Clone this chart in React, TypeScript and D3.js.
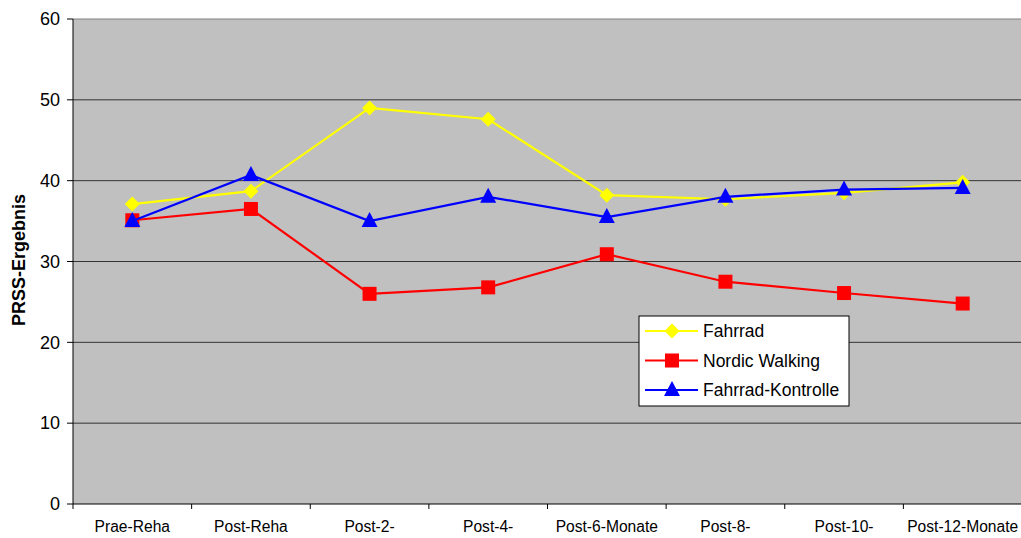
import React from "react";
import * as d3 from "d3";

const categories = ["Prae-Reha", "Post-Reha", "Post-2-", "Post-4-", "Post-6-Monate", "Post-8-", "Post-10-", "Post-12-Monate"];
const fahrrad = [37.1, 38.7, 49.0, 47.6, 38.2, 37.7, 38.5, 39.8];
const nordicWalking = [35.1, 36.5, 26.0, 26.8, 30.9, 27.5, 26.1, 24.8];
const kontrolle = [35.0, 40.7, 35.0, 38.0, 35.5, 38.0, 38.9, 39.1];
const yTicks = [0, 10, 20, 30, 40, 50, 60];

const series = [
  { name: "Fahrrad", values: fahrrad, color: "#ffff00", marker: "diamond" },
  { name: "Nordic Walking", values: nordicWalking, color: "#ff0000", marker: "square" },
  { name: "Fahrrad-Kontrolle", values: kontrolle, color: "#0000ff", marker: "triangle" },
];

const W = 1021, H = 538;
const left = 73, right = 1022, top = 19, bottom = 504;

function Marker({ type, x, y, color }: { type: string; x: number; y: number; color: string }) {
  if (type === "diamond") {
    const s = 7.5;
    return <path d={`M${x},${y - s}L${x + s},${y}L${x},${y + s}L${x - s},${y}Z`} fill={color} />;
  }
  if (type === "square") {
    const s = 7;
    return <rect x={x - s} y={y - s} width={2 * s} height={2 * s} fill={color} />;
  }
  const s = 8;
  return <path d={`M${x},${y - s - 1}L${x + s},${y + s - 2}L${x - s},${y + s - 2}Z`} fill={color} />;
}

export default function App() {
  const x = d3.scaleBand<string>().domain(categories).range([left, right]);
  const y = d3.scaleLinear().domain([0, 60]).range([bottom, top]);
  const line = d3.line<number>().x((_, i) => (x(categories[i]) as number) + x.bandwidth() / 2).y((d) => y(d));
  const font = "Arial, 'Liberation Sans', sans-serif";
  const legendX = 639, legendY = 316;
  return (
    <svg width={W} height={H} style={{ position: "absolute", left: 0, top: 0, background: "#fff" }} fontFamily={font}>
      <rect x={left} y={top} width={right - left} height={bottom - top} fill="#c0c0c0" />
      {yTicks.map((t) => (
        <g key={t}>
          {t > 0 && <line x1={left} x2={right} y1={y(t)} y2={y(t)} stroke={t === 60 ? "#808080" : "#333"} strokeWidth={1} />}
          <line x1={left - 6} x2={left} y1={y(t)} y2={y(t)} stroke="#000" />
          <text x={left - 13} y={y(t)} dy="0.35em" textAnchor="end" fontSize={18} fill="#000">{t}</text>
        </g>
      ))}
      <line x1={left} x2={left} y1={top} y2={bottom} stroke="#000" strokeWidth={1} />
      <line x1={left} x2={right} y1={bottom} y2={bottom} stroke="#000" strokeWidth={1} />
      {categories.map((c, i) => (
        <g key={c}>
          <line x1={(x(c) as number)} x2={(x(c) as number)} y1={bottom} y2={bottom + 5} stroke="#000" />
          <text x={(x(c) as number) + x.bandwidth() / 2} y={532} textAnchor="middle" fontSize={15.6} fill="#000">{c}</text>
        </g>
      ))}
      <text transform={`translate(25,260) rotate(-90)`} textAnchor="middle" fontSize={18} fontWeight="bold" fill="#000">PRSS-Ergebnis</text>
      {series.map((s) => (
        <g key={s.name}>
          <path d={line(s.values) || ""} fill="none" stroke={s.color} strokeWidth={2.2} />
          {s.values.map((v, i) => (
            <Marker key={i} type={s.marker} x={(x(categories[i]) as number) + x.bandwidth() / 2} y={y(v)} color={s.color} />
          ))}
        </g>
      ))}
      <rect x={legendX} y={legendY} width={210} height={90} fill="#fff" stroke="#000" strokeWidth={1} />
      {series.map((s, i) => {
        const ly = legendY + 15 + i * 29.5;
        return (
          <g key={s.name}>
            <line x1={645} x2={698} y1={ly} y2={ly} stroke={s.color} strokeWidth={2.2} />
            <Marker type={s.marker} x={672} y={ly} color={s.color} />
            <text x={703} y={ly} dy="0.35em" fontSize={17.5} fill="#000">{s.name}</text>
          </g>
        );
      })}
    </svg>
  );
}
